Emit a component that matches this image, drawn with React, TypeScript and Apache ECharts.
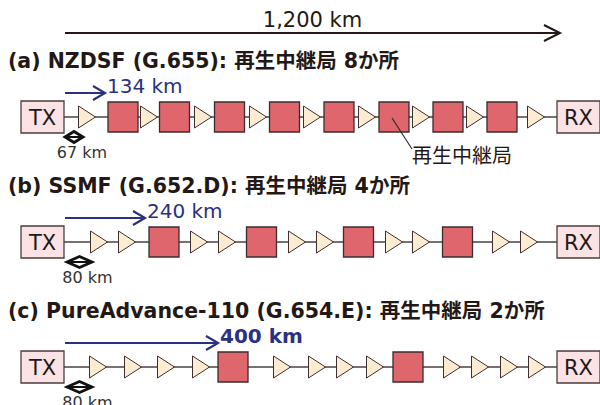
import React, { useEffect, useRef } from "react";
import * as echarts from "echarts";

// ---------- data ----------
const rowTitles = [
  "(a) NZDSF (G.655): 再生中継局 8か所",
  "(b) SSMF (G.652.D): 再生中継局 4か所",
  "(c) PureAdvance-110 (G.654.E): 再生中継局 2か所",
];
const totalLabel = "1,200 km";
const regenSpanLabels = ["134 km", "240 km", "400 km"];
const ampSpanLabels = ["67 km", "80 km", "80 km"];
const regenLabel = "再生中継局";

// element sequences along each link: TX / RX terminals, A = optical amplifier, R = regenerator
const rowAKinds = ["TX", "A", "R", "A", "R", "A", "R", "A", "R", "A", "R", "A", "R", "A", "R", "A", "R", "A", "RX"];
const rowAPos = [42.5, 87, 123, 149, 174.5, 203, 229.5, 258, 284.5, 312, 339, 367, 394, 421, 448, 475, 502, 536, 578.5];
const rowBKinds = ["TX", "A", "A", "R", "A", "A", "R", "A", "A", "R", "A", "A", "R", "A", "A", "RX"];
const rowBPos = [42.5, 99, 127, 164, 199, 227, 261.5, 297, 325, 358.5, 394, 421, 457.5, 501, 529, 578.5];
const rowCKinds = ["TX", "A", "A", "A", "A", "R", "A", "A", "A", "A", "R", "A", "A", "A", "A", "RX"];
const rowCPos = [42.5, 98, 133, 166, 201, 233, 282, 317, 345, 375, 408, 452, 480, 509, 537, 578.5];

// span marks (diagram units along the link)
const regenArrowEnd = [105, 145, 218];
const ampMarkStart = [65, 67, 67];
const ampMarkEnd = [83, 92, 92];
const regenLabelTarget = 5; // 6th regenerator of row (a)

// ---------- styles ----------
const FONT = '"DejaVu Sans", "Noto Sans CJK JP", sans-serif';
const INK = "#231815";
const NAVY = "#2b3182";
const LINK = "#4a4242";
const regenSpanBold = [false, false, true];

const rows = [
  { kinds: rowAKinds, pos: rowAPos },
  { kinds: rowBKinds, pos: rowBPos },
  { kinds: rowCKinds, pos: rowCPos },
];
const kindCode: Record<string, number> = { TX: 0, RX: 1, A: 2, R: 3 };
const nodeData = rows.flatMap((r, i) => r.kinds.map((k, j) => [r.pos[j], i, kindCode[k]]));
const annoData = rows.map((r, i) => [r.pos[0], i, regenArrowEnd[i], ampMarkStart[i], ampMarkEnd[i]]);
const regenXs = rowAPos.filter((_, j) => rowAKinds[j] === "R");
const regenLabelX = regenXs[regenLabelTarget];

function renderNode(params: any, api: any) {
  const x = api.value(0);
  const row = api.value(1);
  const kind = api.value(2);
  const [cx, cy] = api.coord([x, row]);
  if (kind === 0 || kind === 1) {
    return {
      type: "group",
      children: [
        {
          type: "rect",
          shape: { x: cx - 21.5, y: cy - 16, width: 43, height: 32 },
          style: { fill: "#fbe2e5", stroke: "#4b3d3d", lineWidth: 1.3 },
        },
        {
          type: "text",
          style: {
            text: kind === 0 ? "TX" : "RX",
            x: cx,
            y: cy + 1,
            textAlign: "center",
            textVerticalAlign: "middle",
            font: `21px ${FONT}`,
            fill: INK,
          },
        },
      ],
    };
  }
  if (kind === 2) {
    return {
      type: "polygon",
      shape: { points: [[cx - 8.5, cy - 11], [cx + 8.5, cy], [cx - 8.5, cy + 11]] },
      style: { fill: "#fdebd2", stroke: "#3c3030", lineWidth: 1 },
    };
  }
  return {
    type: "rect",
    shape: { x: cx - 15, y: cy - 15, width: 30, height: 30 },
    style: { fill: "#e0666e", stroke: "#3c2c2c", lineWidth: 1.3 },
  };
}

function renderAnno(params: any, api: any) {
  const i = params.dataIndex;
  const row = api.value(1);
  const [tx, cy] = api.coord([api.value(0), row]);
  const arrowStart = tx + 22.5;
  const arrowEnd = api.coord([api.value(2), row])[0];
  const mS = api.coord([api.value(3), row])[0];
  const mE = api.coord([api.value(4), row])[0];
  const children: any[] = [];
  children.push({
    type: "text",
    style: {
      text: rowTitles[i],
      x: 8,
      y: cy - 56,
      textVerticalAlign: "middle",
      font: `bold 20.5px ${FONT}`,
      fill: INK,
    },
  });
  const ay = cy - 24;
  children.push({
    type: "line",
    shape: { x1: arrowStart, y1: ay, x2: arrowEnd - 1, y2: ay },
    style: { stroke: NAVY, lineWidth: 2.2 },
  });
  children.push({
    type: "polyline",
    shape: { points: [[arrowEnd - 12, ay - 7], [arrowEnd, ay], [arrowEnd - 12, ay + 7]] },
    style: { stroke: NAVY, lineWidth: 2.2, fill: null },
  });
  children.push({
    type: "text",
    style: {
      text: regenSpanLabels[i],
      x: arrowEnd + 2,
      y: cy - 31,
      textVerticalAlign: "middle",
      font: `${regenSpanBold[i] ? "bold " : ""}20px ${FONT}`,
      fill: NAVY,
    },
  });
  const my = cy + 20;
  const mh = 5.5;
  const mc = (mS + mE) / 2;
  children.push({
    type: "polygon",
    shape: { points: [[mS, my], [mc, my - mh], [mE, my], [mc, my + mh]] },
    style: { fill: "#ffffff", stroke: "#111111", lineWidth: 2.8 },
  });
  children.push({
    type: "line",
    shape: { x1: mS, y1: my, x2: mE, y2: my },
    style: { stroke: "#111111", lineWidth: 2 },
  });
  children.push({
    type: "text",
    style: {
      text: ampSpanLabels[i],
      x: mc + 8,
      y: cy + 35,
      textAlign: "center",
      textVerticalAlign: "middle",
      font: `16px ${FONT}`,
      fill: "#333333",
    },
  });
  if (i === 0) {
    const bx = api.coord([regenLabelX, row])[0];
    children.push({
      type: "line",
      shape: { x1: bx - 2, y1: cy + 1, x2: bx + 18, y2: cy + 32 },
      style: { stroke: "#2a2222", lineWidth: 1.1 },
    });
    children.push({
      type: "text",
      style: {
        text: regenLabel,
        x: bx + 18,
        y: cy + 37,
        textVerticalAlign: "middle",
        font: `20px "Noto Sans CJK JP", ${FONT}`,
        fill: INK,
      },
    });
  }
  return { type: "group", children };
}

function renderTotal(params: any, api: any) {
  const [sx, cy] = api.coord([api.value(0), 0]);
  const ex = api.coord([api.value(1), 0])[0];
  const x1 = sx + 22.5;
  const x2 = ex - 18.5;
  const y = cy - 84;
  return {
    type: "group",
    children: [
      { type: "line", shape: { x1, y1: y, x2: x2 - 1, y2: y }, style: { stroke: INK, lineWidth: 2 } },
      {
        type: "polyline",
        shape: { points: [[x2 - 16, y - 8], [x2, y], [x2 - 16, y + 8]] },
        style: { stroke: INK, lineWidth: 2, fill: null },
      },
      {
        type: "text",
        style: {
          text: totalLabel,
          x: (x1 + x2) / 2,
          y: cy - 97,
          textAlign: "center",
          textVerticalAlign: "middle",
          font: `21px ${FONT}`,
          fill: INK,
        },
      },
    ],
  };
}

const option: any = {
  animation: false,
  backgroundColor: "#ffffff",
  grid: { left: 0, right: 0, top: 0, bottom: 0, containLabel: false },
  xAxis: { type: "value", min: 0, max: 600, show: false },
  yAxis: { type: "value", min: -0.936, max: 2.304, inverse: true, show: false },
  series: [
    ...rows.map((r, i) => ({
      type: "line",
      data: [[r.pos[0], i], [r.pos[r.pos.length - 1], i]],
      symbol: "none",
      lineStyle: { color: LINK, width: 1.5 },
      silent: true,
      z: 1,
    })),
    {
      type: "custom",
      data: nodeData,
      renderItem: renderNode,
      encode: { x: 0, y: 1 },
      silent: true,
      z: 3,
    },
    {
      type: "custom",
      data: annoData,
      renderItem: renderAnno,
      encode: { x: 0, y: 1 },
      silent: true,
      z: 4,
    },
    {
      type: "custom",
      data: [[rowAPos[0], rowAPos[rowAPos.length - 1]]],
      renderItem: renderTotal,
      silent: true,
      z: 4,
    },
  ],
};

export default function App() {
  const ref = useRef<HTMLDivElement>(null);
  useEffect(() => {
    const chart = echarts.init(ref.current!, undefined, { renderer: "svg" });
    chart.setOption(option);
    return () => chart.dispose();
  }, []);
  return (
    <div
      ref={ref}
      style={{ position: "absolute", left: 0, top: 0, width: 600, height: 405, background: "#fff" }}
    />
  );
}
